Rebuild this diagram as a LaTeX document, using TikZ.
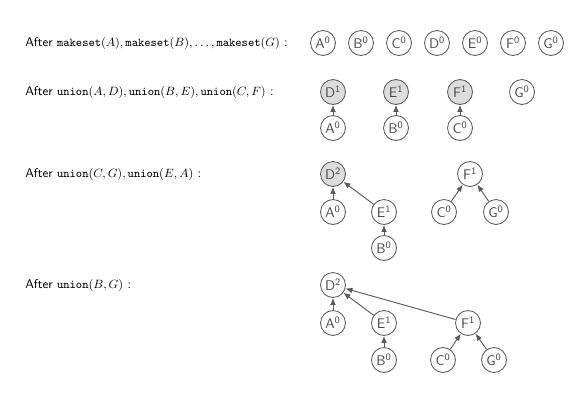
\documentclass[tikz,border=0pt]{standalone}
\usetikzlibrary{arrows.meta}
\definecolor{ln}{HTML}{5A5A5A}
\definecolor{tx}{HTML}{4A4A4A}
\definecolor{hl}{HTML}{DDDDDD}
\begin{document}
\begin{tikzpicture}[x=0.75pt,y=-0.75pt,
  nd/.style={circle,draw=ln,line width=0.65pt,fill=white,minimum size=18.7pt,inner sep=0pt,text=tx,font=\sffamily\fontsize{10.5}{12}\selectfont},
  hn/.style={nd,fill=hl},
  lab/.style={anchor=west,inner sep=0pt,font=\sffamily\fontsize{9.45}{11}\selectfont},
  arr/.style={draw=ln,line width=0.7pt,-{Latex[length=5.3pt,width=4.3pt]}}]
\useasboundingbox (0,0) rectangle (577,408);
% labels
\node[lab] (l1) at (25,43) {After $\mathtt{makeset}(A),\mathtt{makeset}(B),\ldots,\mathtt{makeset}(G)$ :};
\node[lab] (l2) at (25,92) {After $\mathtt{union}(A,D),\mathtt{union}(B,E),\mathtt{union}(C,F)$ :};
\node[lab] (l3) at (25,174) {After $\mathtt{union}(C,G),\mathtt{union}(E,A)$ :};
\node[lab] (l4) at (25,285) {After $\mathtt{union}(B,G)$ :};
% row 1
\node[nd] (a1) at (323,43) {A\textsuperscript{0}};
\node[nd] (b1) at (361,43) {B\textsuperscript{0}};
\node[nd] (c1) at (399,43) {C\textsuperscript{0}};
\node[nd] (d1) at (437,43) {D\textsuperscript{0}};
\node[nd] (e1) at (475,43) {E\textsuperscript{0}};
\node[nd] (f1) at (513,43) {F\textsuperscript{0}};
\node[nd] (g1) at (551,43) {G\textsuperscript{0}};
% row 2
\node[hn] (d2) at (333,92) {D\textsuperscript{1}};
\node[nd] (a2) at (333,128) {A\textsuperscript{0}};
\node[hn] (e2) at (396,92) {E\textsuperscript{1}};
\node[nd] (b2) at (396,128) {B\textsuperscript{0}};
\node[hn] (f2) at (460,92) {F\textsuperscript{1}};
\node[nd] (c2) at (460,128) {C\textsuperscript{0}};
\node[nd] (g2) at (522,92) {G\textsuperscript{0}};
\draw[arr] (a2) -- (d2);
\draw[arr] (b2) -- (e2);
\draw[arr] (c2) -- (f2);
% row 3
\node[hn] (d3) at (333,174) {D\textsuperscript{2}};
\node[nd] (a3) at (333,212) {A\textsuperscript{0}};
\node[nd] (e3) at (384,212) {E\textsuperscript{1}};
\node[nd] (b3) at (384,248) {B\textsuperscript{0}};
\node[nd] (f3) at (470,174) {F\textsuperscript{1}};
\node[nd] (c3) at (444,212) {C\textsuperscript{0}};
\node[nd] (g3) at (496,212) {G\textsuperscript{0}};
\draw[arr] (a3) -- (d3);
\draw[arr] (e3) -- (d3);
\draw[arr] (b3) -- (e3);
\draw[arr] (c3) -- (f3);
\draw[arr] (g3) -- (f3);
% row 4
\node[nd] (d4) at (333,285) {D\textsuperscript{2}};
\node[nd] (a4) at (333,323) {A\textsuperscript{0}};
\node[nd] (e4) at (384,323) {E\textsuperscript{1}};
\node[nd] (b4) at (384,360) {B\textsuperscript{0}};
\node[nd] (f4) at (468,323) {F\textsuperscript{1}};
\node[nd] (c4) at (443,360) {C\textsuperscript{0}};
\node[nd] (g4) at (494,360) {G\textsuperscript{0}};
\draw[arr] (a4) -- (d4);
\draw[arr] (e4) -- (d4);
\draw[arr] (f4) -- (d4);
\draw[arr] (b4) -- (e4);
\draw[arr] (c4) -- (f4);
\draw[arr] (g4) -- (f4);
\end{tikzpicture}
\end{document}
